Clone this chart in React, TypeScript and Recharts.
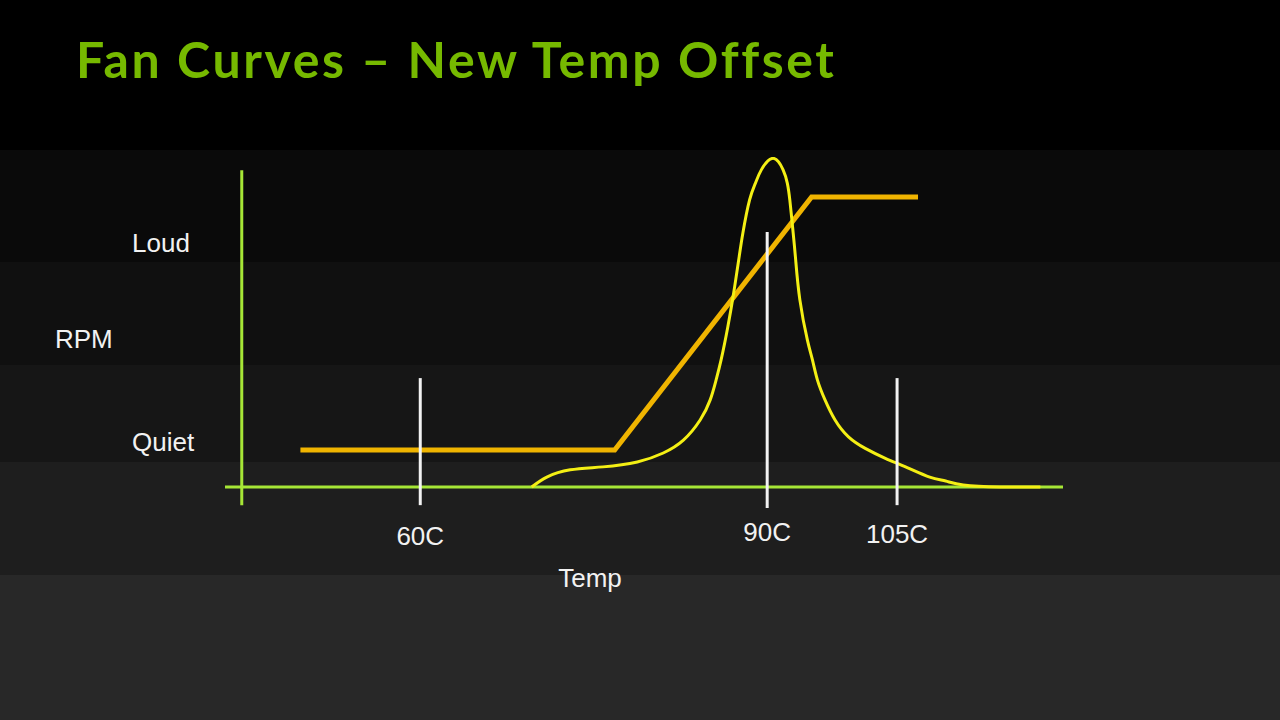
import React from 'react';
import { ComposedChart, Line, XAxis, YAxis, ReferenceLine } from 'recharts';

// x: schematic temperature position (0–100 across the axis), y: schematic RPM / amount (0–100)
const fanCurveX = [9.0, 46.5, 70.0, 82.7];
const fanCurveY = [11.2, 11.2, 87.9, 87.9];

const tempDistX = [36.6, 38.4, 41.2, 45.1, 49.2, 52.3, 54.7, 56.7, 57.9, 58.6, 59.2, 60.0, 60.7, 61.3, 61.8, 62.6, 63.3, 64.0, 65.4, 66.6, 67.1, 67.4, 67.8, 68.1, 68.6, 69.5, 70.1, 70.7, 71.6, 72.8, 74.4, 76.4, 78.8, 81.4, 84.1, 86.0, 88.1, 92.5, 97.3];
const tempDistY = [0, 3.0, 5.2, 6.1, 7.6, 10.3, 14.2, 20.3, 26.4, 32.4, 38.5, 48.5, 58.8, 68.8, 77.0, 87.0, 92.1, 96.1, 99.6, 96.1, 92.1, 87.0, 77.0, 68.8, 56.7, 44.5, 38.5, 32.4, 26.4, 20.3, 15.2, 11.7, 8.7, 5.9, 3.0, 1.8, 0.6, 0, 0];

const tempTickPositions = [23.3, 64.7, 80.2];
const tempTickLabels = ['60C', '90C', '105C'];
const tempTickLift = [0, 4, 2];
const markerTops = [33, 77.3, 33];
const markerBottoms = [-5.5, -6.4, -5.5];

const rpmTickPositions = [13.6, 73.9];
const rpmTickLabels = ['Quiet', 'Loud'];

const yAxisLineX = 2;
const yAxisLineTop = 96;
const yAxisLineBottom = -5.5;

const fanData = fanCurveX.map((x, i) => ({ x, y: fanCurveY[i] }));
const distData = tempDistX.map((x, i) => ({ x, y: tempDistY[i] }));

const LABEL_FONT = '"Liberation Sans", Arial, sans-serif';
const LABEL_COLOR = '#f2f2f2';
const LABEL_SIZE = 26;
const AXIS_GREEN = '#a6e636';

const XTick = (props: any) => {
  const { x, y, payload } = props;
  const i = tempTickPositions.indexOf(payload.value);
  return (
    <text x={x} y={y + 23 - (tempTickLift[i] || 0)} textAnchor="middle" fill={LABEL_COLOR} fontSize={LABEL_SIZE} fontFamily={LABEL_FONT}>
      {tempTickLabels[i]}
    </text>
  );
};

const YTick = (props: any) => {
  const { x, y, payload } = props;
  const i = rpmTickPositions.indexOf(payload.value);
  return (
    <text x={x - 91} y={y} dy="0.355em" textAnchor="start" fill={LABEL_COLOR} fontSize={LABEL_SIZE} fontFamily={LABEL_FONT}>
      {rpmTickLabels[i]}
    </text>
  );
};

export default function App() {
  return (
    <div
      style={{
        position: 'fixed',
        left: 0,
        top: 0,
        width: 1280,
        height: 720,
        background:
          'linear-gradient(to bottom, #000000 0px, #000000 150px, #0a0a0a 150px, #0a0a0a 262px, #101010 262px, #101010 365px, #161616 365px, #161616 462px, #1e1e1e 462px, #1e1e1e 575px, #282828 575px, #282828 720px)',
      }}
    >
      <div
        style={{
          position: 'absolute',
          left: 76,
          top: 34,
          fontFamily: 'Lato, "Noto Sans", sans-serif',
          fontWeight: 700,
          fontSize: 50,
          lineHeight: '50px',
          letterSpacing: '2.6px',
          color: '#76b900',
          whiteSpace: 'nowrap',
        }}
      >
        Fan Curves – New Temp Offset
      </div>
      <div style={{ position: 'absolute', left: 0, top: 0 }}>
        <ComposedChart width={1280} height={720} margin={{ top: 157, right: 217, bottom: 128, left: 55 }}>
          <XAxis
            type="number"
            dataKey="x"
            domain={[0, 100]}
            allowDataOverflow
            ticks={tempTickPositions}
            tick={<XTick />}
            tickLine={false}
            axisLine={false}
            tickSize={0}
            height={72}
            interval={0}
            label={{ value: 'Temp', position: 'insideBottom', offset: 5, dx: -54, fill: LABEL_COLOR, fontSize: LABEL_SIZE, fontFamily: LABEL_FONT }}
          />
          <YAxis
            type="number"
            dataKey="y"
            domain={[-10, 100]}
            allowDataOverflow
            ticks={rpmTickPositions}
            tick={<YTick />}
            tickLine={false}
            axisLine={false}
            tickSize={0}
            width={170}
            interval={0}
            label={{ value: 'RPM', position: 'insideLeft', offset: 0, fill: LABEL_COLOR, fontSize: LABEL_SIZE, fontFamily: LABEL_FONT }}
          />
          <ReferenceLine y={0} stroke={AXIS_GREEN} strokeWidth={3} zIndex={50} />
          <ReferenceLine
            segment={[{ x: yAxisLineX, y: yAxisLineBottom }, { x: yAxisLineX, y: yAxisLineTop }]}
            stroke={AXIS_GREEN}
            strokeWidth={3}
            zIndex={50}
          />
          <Line
            data={fanData}
            dataKey="y"
            type="linear"
            stroke="#f0b400"
            strokeWidth={5}
            dot={false}
            activeDot={false}
            isAnimationActive={false}
            strokeLinejoin="miter"
            zIndex={400}
          />
          <Line
            data={distData}
            dataKey="y"
            type="natural"
            stroke="#f4ef14"
            strokeWidth={3}
            dot={false}
            activeDot={false}
            isAnimationActive={false}
            zIndex={410}
          />
          {tempTickPositions.map((pos, i) => (
            <ReferenceLine
              key={tempTickLabels[i]}
              segment={[{ x: pos, y: markerBottoms[i] }, { x: pos, y: markerTops[i] }]}
              stroke="#f2f2f2"
              strokeWidth={3}
              zIndex={600}
            />
          ))}
        </ComposedChart>
      </div>
    </div>
  );
}
